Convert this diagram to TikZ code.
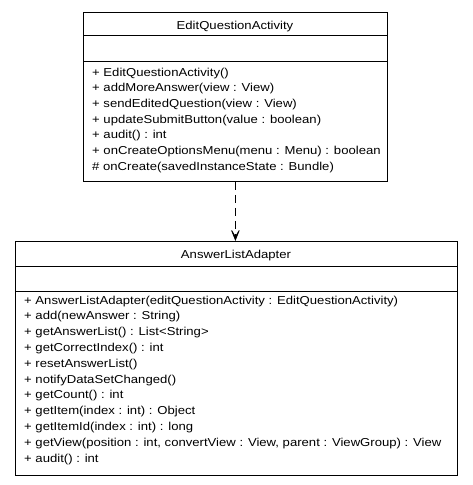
\documentclass[tikz,border=0pt]{standalone}
\usepackage{fontspec}
\setmainfont{Liberation Sans}[FakeStretch=1.14]
\usetikzlibrary{arrows.meta}
\tikzset{
  classbox/.style={draw, line width=0.8pt, anchor=north west, inner sep=0pt},
  classname/.style={anchor=base, inner sep=0pt, font=\fontsize{11.5}{13}\selectfont},
  member/.style={anchor=base west, inner sep=0pt, font=\fontsize{11.5}{13}\selectfont},
  depends/.style={line width=0.8pt, dash pattern=on 8pt off 5pt, -{Stealth[length=15pt,width=12pt,inset=10pt]}},
}

\begin{document}
\begin{tikzpicture}[x=1pt,y=1pt]
\useasboundingbox (0,0) rectangle (472,-485);

% EditQuestionActivity
\node[classbox, minimum width=304pt, minimum height=169pt] (eqa) at (83,-12) {};
\draw[line width=0.8pt] (83,-35) -- (387,-35);
\draw[line width=0.8pt] (83,-61) -- (387,-61);
\node[classname] (eqaname) at (235,-29) {EditQuestionActivity};
\node[member] (eqa1) at (92,-76) {+ EditQuestionActivity()};
\node[member] (eqa2) at (92,-91.7) {+ addMoreAnswer(view : View)};
\node[member] (eqa3) at (92,-107.4) {+ sendEditedQuestion(view : View)};
\node[member] (eqa4) at (92,-123.1) {+ updateSubmitButton(value : boolean)};
\node[member] (eqa5) at (92,-138.8) {+ audit() : int};
\node[member] (eqa6) at (92,-154.5) {+ onCreateOptionsMenu(menu : Menu) : boolean};
\node[member] (eqa7) at (92,-170.2) {\# onCreate(savedInstanceState : Bundle)};

% AnswerListAdapter
\node[classbox, minimum width=442pt, minimum height=234pt] (ala) at (15,-241) {};
\draw[line width=0.8pt] (15,-266) -- (457,-266);
\draw[line width=0.8pt] (15,-291) -- (457,-291);
\node[classname] (alaname) at (236,-258) {AnswerListAdapter};
\node[member] (ala1) at (24,-304) {+ AnswerListAdapter(editQuestionActivity : EditQuestionActivity)};
\node[member] (ala2) at (24,-319.8) {+ add(newAnswer : String)};
\node[member] (ala3) at (24,-335.6) {+ getAnswerList() : List<String>};
\node[member] (ala4) at (24,-351.4) {+ getCorrectIndex() : int};
\node[member] (ala5) at (24,-367.2) {+ resetAnswerList()};
\node[member] (ala6) at (24,-383) {+ notifyDataSetChanged()};
\node[member] (ala7) at (24,-398.8) {+ getCount() : int};
\node[member] (ala8) at (24,-414.6) {+ getItem(index : int) : Object};
\node[member] (ala9) at (24,-430.4) {+ getItemId(index : int) : long};
\node[member] (ala10) at (24,-446.2) {+ getView(position : int, convertView : View, parent : ViewGroup) : View};
\node[member] (ala11) at (24,-462) {+ audit() : int};

\draw[depends] (eqa.south) -- (eqa.south |- ala.north);
\end{tikzpicture}
\end{document}
